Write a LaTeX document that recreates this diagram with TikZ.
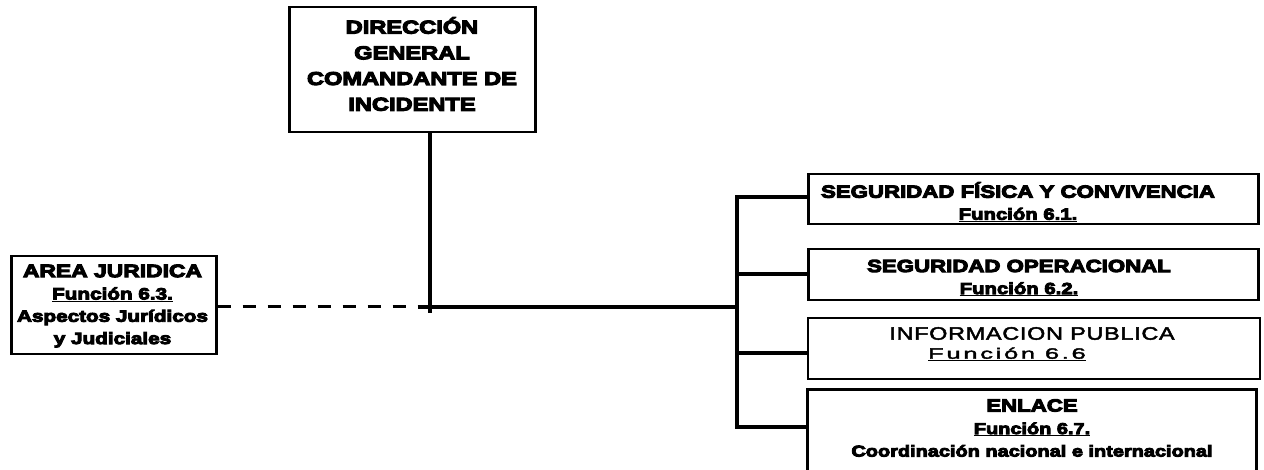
\documentclass[tikz,border=0pt]{standalone}
\usepackage{fontspec}
\newfontfamily\blk[FakeStretch=1.27,FakeBold=6]{Liberation Sans Bold}
\newfontfamily\reg[FakeStretch=1.3,FakeBold=2.5,LetterSpace=4]{Liberation Sans}
\newfontfamily\regwide[FakeStretch=1.7,FakeBold=2.5,LetterSpace=18]{Liberation Sans}
\begin{document}
\begin{tikzpicture}[x=1pt,y=-1pt,
  box/.style={draw=black, line width=2.5pt, fill=white, inner sep=0pt, anchor=north west},
  txt/.style={align=center, inner sep=0pt},
  conn/.style={line width=4.5pt, line join=miter},
  dashconn/.style={line width=3pt, dash pattern=on 13pt off 12pt}]
\clip (0,0) rectangle (1264,470);
\fill[white] (0,0) rectangle (1264,470);
% boxes
\node[box, minimum width=246pt, minimum height=125pt] (dir) at (288,6) {};
\node[box, minimum width=205pt, minimum height=98pt] (jur) at (10,255) {};
\node[box, minimum width=450pt, minimum height=50pt] (b1) at (807,173) {};
\node[box, minimum width=450pt, minimum height=51pt] (b2) at (807,248) {};
\node[box, line width=2pt, minimum width=452pt, minimum height=61pt] (b3) at (807,317) {};
\node[box, minimum width=449pt, minimum height=100pt] (b4) at (806,388) {};
% texts
\node[txt, font=\blk\fontsize{18.6}{25.7}\selectfont] (dirt) at (412,64)
  {DIRECCIÓN\\GENERAL\\COMANDANTE DE\\INCIDENTE};
\node[txt, font=\blk\fontsize{16.3}{22.3}\selectfont] (jurt) at (112.5,306)
  {{\fontsize{18}{22.3}\selectfont AREA JURIDICA}\\\underline{Función 6.3.}\\Aspectos Jurídicos\\y Judiciales};
\node[txt, font=\blk\fontsize{16}{22}\selectfont] (b1t) at (1018,202)
  {{\fontsize{17.5}{22}\selectfont SEGURIDAD FÍSICA Y CONVIVENCIA}\\\underline{Función 6.1.}};
\node[txt, font=\blk\fontsize{16}{22}\selectfont] (b2t) at (1019,278)
  {{\fontsize{17.5}{22}\selectfont SEGURIDAD OPERACIONAL}\\\underline{Función 6.2.}};
\node[txt, font=\reg\fontsize{18}{19}\selectfont] (b3t) at (1032,344)
  {INFORMACION PUBLICA\\{\regwide\fontsize{15}{19}\selectfont\underline{Función 6.6}\hspace*{50pt}}};
\node[txt, font=\blk\fontsize{15.7}{22.5}\selectfont] (b4t) at (1032,428)
  {{\fontsize{17.5}{22.5}\selectfont ENLACE}\\\underline{Función 6.7.}\\Coordinación nacional e internacional};
% junction points
\coordinate (j) at (430,307);
\coordinate (jb) at (430,313);
\coordinate (jl) at (418,307);
\coordinate (t) at (737,307);
\coordinate (tt) at (737,197);
\coordinate (t2) at (737,274);
\coordinate (t3) at (737,353);
\coordinate (tb) at (737,427);
% connectors
\draw[conn] (dir.south -| j) -- (jb);
\draw[conn] (jl) -- (t);
\draw[dashconn] (jur.east |- jl) -- (jl);
\draw[conn] (b1.west |- tt) -- (tt) -- (tb) -- (b4.west |- tb);
\draw[conn, line width=4pt] (t2) -- (b2.west |- t2);
\draw[conn, line width=4pt] (t3) -- (b3.west |- t3);
\end{tikzpicture}
\end{document}
